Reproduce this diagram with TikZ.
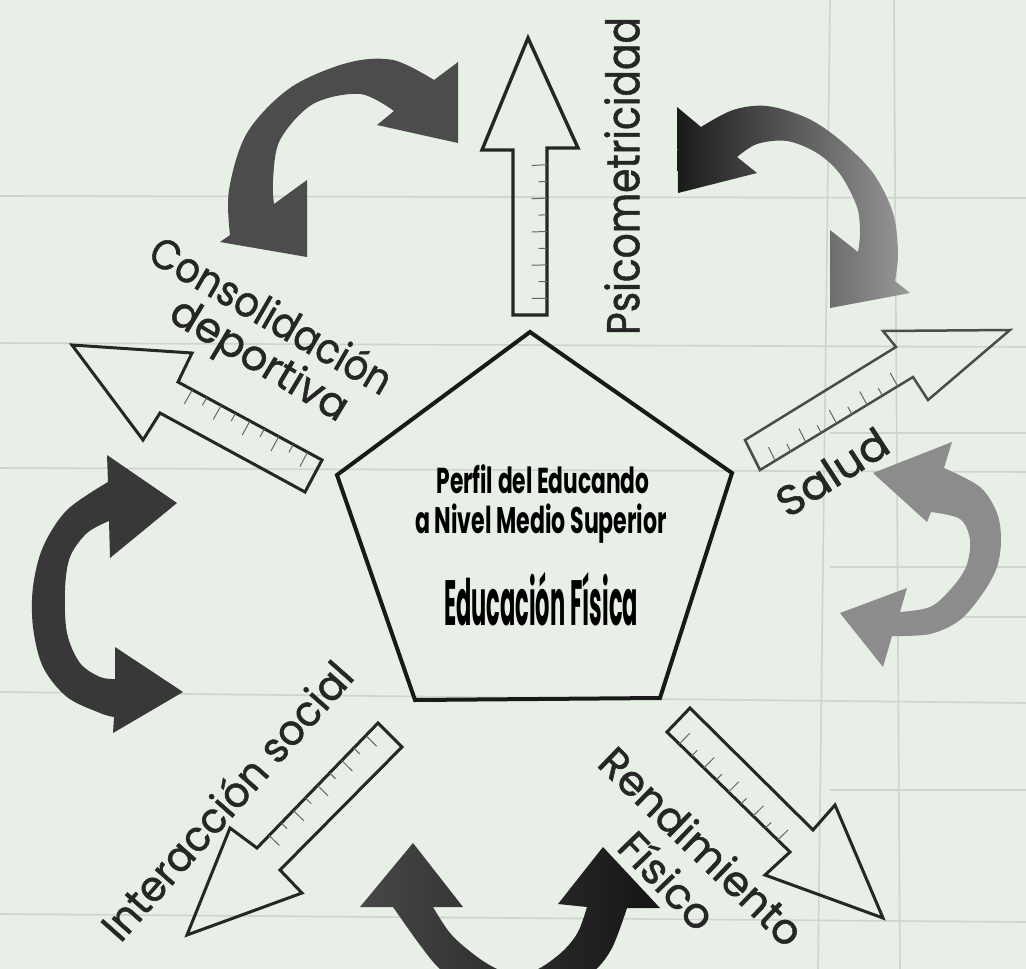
\documentclass[tikz,border=0pt]{standalone}
\usepackage{fontspec}
\usepackage{graphicx}
\usetikzlibrary{calc}
\newfontfamily\labfont{Poppins}[FakeBold=1.2]
\newfontfamily\penfont{Poppins}
\definecolor{paper}{RGB}{231,239,230}
\definecolor{gridc}{RGB}{205,213,204}

\newcommand\rulerticks[5]{%
  \foreach \i in {1,...,#5}{%
    \pgfmathsetmacro\tpos{\i/(#5+1)}%
    \pgfmathsetmacro\tlen{ifthenelse(isodd(\i),0.45,0.25)}%
    \coordinate (tp) at ($(#1)!\tpos!(#2)$);%
    \coordinate (tq) at ($(#3)!\tpos!(#4)$);%
    \draw[tick] (tp) -- ($(tp)!\tlen!(tq)$);%
  }}

\begin{document}
\begin{tikzpicture}[x=1pt,y=-1pt,
  outl/.style={draw=black!85,line width=3pt,line join=miter,miter limit=10},
  tick/.style={draw=black!60,line width=1pt},
  lab/.style={inner sep=0pt,text=black!85},
  pent/.style={inner sep=0pt,text=black,anchor=base},
  faint/.style={draw=gridc,line width=1.6pt},
  smoothy/.style={smooth,tension=0.55}]
\useasboundingbox (0,0) rectangle (1026,969);
\fill[paper] (0,0) rectangle (1026,969);
\begin{scope}
\clip (0,0) rectangle (1026,969);
% faint table lines
\draw[faint] (830,0) -- (818,969);
\draw[faint] (894,0) -- (900,969);
\draw[faint] (0,196) -- (1026,198);
\draw[faint] (0,343) -- (1026,347);
\draw[faint] (0,468) -- (1026,472);
\draw[faint] (0,692) -- (1026,703);
\draw[faint] (0,914) -- (1026,922);
\draw[faint] (830,433) -- (1026,433);
\draw[faint] (830,567) -- (1026,567);
\draw[faint] (900,617) -- (1026,617);
\draw[faint] (830,790) -- (1026,790);

% curved arrow: top-left
\fill[black!70] (230,235) -- plot[smoothy] coordinates {(230,235) (229,190) (247,133) (290,88) (347,63) (393,60) (434,80)}
  -- (458,62) -- (458,143) -- (377,125)
  -- plot[smoothy] coordinates {(394,111) (360,94) (313,104) (280,140) (273,180) (274,204)}
  -- (307,180) -- (307,257) -- (220,242) -- cycle;
% curved arrow: top-right
\shade[left color=black!90,right color=black!40] (701,127)
  -- plot[smoothy] coordinates {(701,127) (733,110) (767,106) (807,118) (840,140) (873,173) (893,213) (898,253) (895,281)}
  -- (910,293) -- (830,308) -- (830,230)
  -- plot[smoothy] coordinates {(858,252) (860,233) (857,207) (840,174) (817,153) (787,141) (757,144) (737,157)}
  -- (757,173) -- (678,193) -- (677,107) -- cycle;
% curved arrow: right
\fill[black!45] (944,468)
  -- plot[smoothy] coordinates {(944,468) (980,487) (997,513) (1001,540) (997,567) (983,593) (960,620) (930,634) (892,636)}
  -- (883,667) -- (840,613) -- (907,588)
  -- plot[smoothy] coordinates {(900,612) (930,607) (950,590) (966,567) (970,540) (960,519) (931,512)}
  -- (927,522) -- (873,473) -- (952,442) -- cycle;
% curved arrow: bottom
\shade[left color=black!72,right color=black!92] (393,907) -- (360,907) -- (413,843) -- (463,907) -- (433,907)
  -- plot[smoothy] coordinates {(433,907) (450,933) (472,953) (495,968) (518,975) (540,968) (563,951) (578,932) (587,907)}
  -- (558,904) -- (603,847) -- (660,908) -- (627,908)
  -- plot[smoothy] coordinates {(627,908) (612,948) (593,972) (560,992) (515,1000) (470,990) (440,969) (420,945) (393,907)}
  -- cycle;
% curved arrow: left
\fill[black!78] (108,482)
  -- plot[smoothy] coordinates {(108,482) (67,510) (43,547) (33,587) (33,627) (43,667) (67,697) (100,713) (114,717)}
  -- (113,733) -- (183,692) -- (115,647)
  -- plot[smoothy] coordinates {(115,679) (100,677) (80,663) (67,633) (65,590) (70,557) (87,533) (109,521)}
  -- (110,558) -- (177,503) -- (107,455) -- cycle;
\end{scope}

% central pentagon
\coordinate (pA) at (530,332);
\coordinate (pB) at (732,473);
\coordinate (pC) at (660,698);
\coordinate (pD) at (415,700);
\coordinate (pE) at (337,475);
\draw[black!90,line width=4pt,line join=miter] (pA) -- (pB) -- (pC) -- (pD) -- (pE) -- cycle;

% arrow 1: Psicometricidad (up)
\coordinate (a1r0) at (547,315); \coordinate (a1r1) at (547,148);
\coordinate (a1l0) at (513,315); \coordinate (a1l1) at (513,150);
\draw[outl,line width=3.4pt] (a1l0) -- (a1l1) -- (482,150) -- (528,38) -- (578,148) -- (a1r1) -- (a1r0) -- cycle;
\rulerticks{a1r0}{a1r1}{a1l0}{a1l1}{9}

% arrow 2: Consolidacion deportiva (up-left)
\coordinate (a2r0) at (322,460); \coordinate (a2r1) at (178,382);
\coordinate (a2l0) at (305,492); \coordinate (a2l1) at (160,413);
\draw[outl] (a2r0) -- (a2r1) -- (192,353) -- (72,345) -- (143,440) -- (a2l1) -- (a2l0) -- cycle;
\rulerticks{a2r0}{a2r1}{a2l0}{a2l1}{9}

% arrow 3: Salud (up-right)
\coordinate (a3r0) at (760,470); \coordinate (a3r1) at (913,377);
\coordinate (a3l0) at (745,440); \coordinate (a3l1) at (896,347);
\draw[outl,draw=black!70,line width=2.5pt] (a3l0) -- (a3l1) -- (883,331) -- (1010,330) -- (928,400) -- (a3r1) -- (a3r0) -- cycle;
\rulerticks{a3r0}{a3r1}{a3l0}{a3l1}{9}

% arrow 4: Rendimiento Fisico (down-right)
\coordinate (a4r0) at (667,732); \coordinate (a4r1) at (790,852);
\coordinate (a4l0) at (690,708); \coordinate (a4l1) at (813,830);
\draw[outl] (a4r0) -- (a4l0) -- (a4l1) -- (835,805) -- (883,918) -- (765,875) -- (a4r1) -- cycle;
\rulerticks{a4r0}{a4r1}{a4l0}{a4l1}{9}

% arrow 5: Interaccion social (down-left)
\coordinate (a5r0) at (378,723); \coordinate (a5r1) at (257,848);
\coordinate (a5l0) at (402,747); \coordinate (a5l1) at (280,870);
\draw[outl] (a5r0) -- (a5l0) -- (a5l1) -- (302,893) -- (187,935) -- (230,828) -- (a5r1) -- cycle;
\rulerticks{a5r0}{a5r1}{a5l0}{a5l1}{9}

% labels
\node[lab,rotate=90] (psico) at (622,176) {\resizebox{318pt}{\height}{\labfont\fontsize{46}{46}\selectfont Psicometricidad}};
\node[lab,rotate=-30] (conso) at (272,314) {\resizebox{272pt}{\height}{\labfont\fontsize{42}{42}\selectfont Consolidación}};
\node[lab,rotate=-31] (depor) at (258,362) {\resizebox{200pt}{\height}{\labfont\fontsize{42}{42}\selectfont deportiva}};
\node[lab,rotate=33] (salud) at (832,472) {\resizebox{125pt}{\height}{\labfont\fontsize{42}{42}\selectfont Salud}};
\node[lab,rotate=48.5] (inter) at (226,800) {\resizebox{355pt}{\height}{\labfont\fontsize{42}{42}\selectfont Interacción social}};
\node[lab,rotate=-44] (rend) at (702,846) {\resizebox{265pt}{\height}{\labfont\fontsize{42}{42}\selectfont Rendimiento}};
\node[lab,rotate=-46] (fis) at (668,880) {\resizebox{118pt}{\height}{\labfont\fontsize{42}{42}\selectfont Físico}};

% pentagon text
\node[pent] (t1) at (543,493) {\resizebox{213pt}{\height}{\penfont\bfseries\fontsize{36}{36}\selectfont Perfil del Educando}};
\node[pent] (t2) at (541,533) {\resizebox{252pt}{\height}{\penfont\bfseries\fontsize{37}{37}\selectfont a Nivel Medio Superior}};
\node[pent] (t3) at (541,625) {\resizebox{194pt}{\height}{\penfont\bfseries\fontsize{64}{64}\selectfont Educación Física}};
\end{tikzpicture}
\end{document}
